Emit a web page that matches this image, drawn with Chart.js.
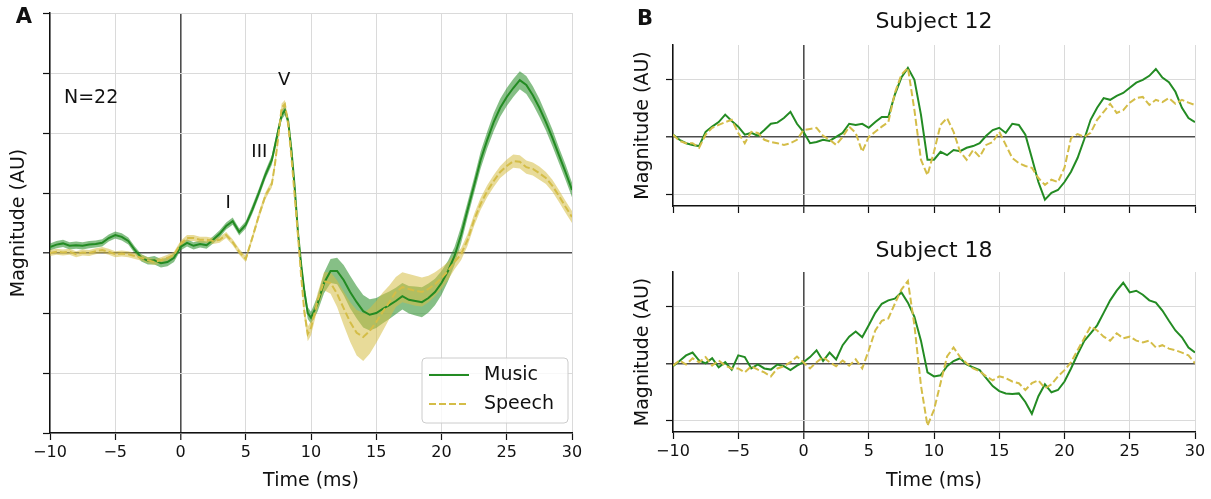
<!DOCTYPE html>
<html>
<head>
<meta charset="utf-8">
<script src="https://cdn.jsdelivr.net/npm/chart.js@4.4.0/dist/chart.umd.min.js"></script>
<style>
  body { margin: 0; background: #fff; }
  #wrap { position: relative; width: 1211px; height: 499px; }
  #wrap canvas { position: absolute; }
</style>
</head>
<body>
<div id="wrap">
  <canvas id="avgChart" width="600" height="499" style="left:0;top:0"></canvas>
  <canvas id="subj12Chart" width="611" height="230" style="left:600px;top:0"></canvas>
  <canvas id="subj18Chart" width="611" height="269" style="left:600px;top:230px"></canvas>
</div>
<script>
// time axis ticks (ms)
const timeTicks = [-10, -5, 0, 5, 10, 15, 20, 25, 30];
const timeTickLabels = ['\u221210', '\u22125', '0', '5', '10', '15', '20', '25', '30'];

// grand average, sampled finer around wave V
const timeA = [-10, -9.5, -9, -8.5, -8, -7.5, -7, -6.5, -6, -5.5, -5, -4.5, -4, -3.5, -3, -2.5, -2, -1.5, -1, -0.5,
  0, 0.5, 1, 1.5, 2, 2.5, 3, 3.5, 4, 4.5, 5, 5.5, 6, 6.5, 7,
  7.25, 7.5, 7.75, 8, 8.25, 8.5, 8.75, 9, 9.25, 9.5, 9.75, 10,
  10.5, 11, 11.5, 12, 12.5, 13, 13.5, 14, 14.5, 15, 15.5, 16, 16.5, 17, 17.5, 18, 18.5, 19, 19.5, 20,
  20.5, 21, 21.5, 22, 22.5, 23, 23.5, 24, 24.5, 25, 25.5, 26, 26.5, 27, 27.5, 28, 28.5, 29, 29.5, 30];

const musicMean = [0.10, 0.14, 0.16, 0.12, 0.13, 0.12, 0.14, 0.15, 0.17, 0.25, 0.30, 0.27, 0.20, 0.05, -0.08, -0.13, -0.12, -0.17, -0.15, -0.08,
  0.10, 0.17, 0.12, 0.15, 0.13, 0.22, 0.32, 0.45, 0.53, 0.35, 0.47, 0.72, 1.0, 1.3, 1.55,
  1.8, 2.05, 2.3, 2.38, 2.2, 1.72, 1.1, 0.35, -0.2, -0.65, -1.0, -1.08,
  -0.85, -0.5, -0.3, -0.3, -0.45, -0.65, -0.82, -0.97, -1.03, -1.0, -0.93, -0.87, -0.8, -0.72, -0.78, -0.8, -0.82, -0.75, -0.65, -0.5,
  -0.3, -0.05, 0.3, 0.72, 1.13, 1.55, 1.88, 2.18, 2.42, 2.6, 2.75, 2.88, 2.8, 2.63, 2.42, 2.18, 1.92, 1.63, 1.35, 1.05];

const musicSem = [0.06, 0.06, 0.06, 0.06, 0.06, 0.06, 0.06, 0.06, 0.06, 0.06, 0.06, 0.06, 0.06, 0.06, 0.06, 0.06, 0.07, 0.07, 0.07, 0.07,
  0.06, 0.06, 0.06, 0.06, 0.06, 0.06, 0.06, 0.06, 0.06, 0.06, 0.06, 0.07, 0.07, 0.07, 0.08,
  0.08, 0.08, 0.08, 0.08, 0.08, 0.08, 0.08, 0.08, 0.09, 0.1, 0.1, 0.1,
  0.13, 0.17, 0.2, 0.22, 0.25, 0.27, 0.27, 0.27, 0.26, 0.25, 0.24, 0.23, 0.22, 0.22, 0.23, 0.24, 0.25, 0.24, 0.22, 0.2,
  0.17, 0.15, 0.14, 0.13, 0.13, 0.14, 0.14, 0.15, 0.15, 0.15, 0.15, 0.15, 0.15, 0.15, 0.15, 0.14, 0.14, 0.13, 0.13, 0.12];

const speechMean = [0.00, 0.02, 0.01, 0.02, -0.02, 0.01, 0.00, 0.03, 0.05, 0.02, -0.02, -0.01, -0.02, -0.05, -0.08, -0.12, -0.15, -0.12, -0.08, -0.03,
  0.15, 0.25, 0.25, 0.22, 0.22, 0.20, 0.22, 0.30, 0.18, 0.02, -0.1, 0.25, 0.62, 0.95, 1.15,
  1.5, 1.95, 2.42, 2.48, 2.15, 1.6, 0.95, 0.3, -0.4, -1.0, -1.35, -1.25,
  -0.8, -0.47, -0.5, -0.68, -0.92, -1.15, -1.33, -1.4, -1.3, -1.15, -0.98, -0.82, -0.65, -0.57, -0.6, -0.63, -0.65, -0.6, -0.52, -0.42,
  -0.3, -0.15, -0.02, 0.22, 0.55, 0.82, 1.03, 1.2, 1.35, 1.45, 1.53, 1.52, 1.43, 1.4, 1.33, 1.25, 1.12, 0.95, 0.77, 0.6];

const speechSem = [0.05, 0.05, 0.05, 0.05, 0.05, 0.05, 0.05, 0.05, 0.05, 0.05, 0.05, 0.05, 0.05, 0.05, 0.05, 0.05, 0.05, 0.05, 0.05, 0.05,
  0.05, 0.05, 0.05, 0.05, 0.05, 0.05, 0.05, 0.05, 0.05, 0.05, 0.05, 0.05, 0.06, 0.06, 0.06,
  0.07, 0.07, 0.07, 0.07, 0.07, 0.07, 0.07, 0.07, 0.08, 0.1, 0.12, 0.12,
  0.13, 0.15, 0.18, 0.22, 0.28, 0.33, 0.38, 0.4, 0.38, 0.35, 0.32, 0.28, 0.25, 0.25, 0.25, 0.25, 0.24, 0.22, 0.2, 0.18,
  0.15, 0.12, 0.1, 0.1, 0.1, 0.1, 0.1, 0.1, 0.1, 0.11, 0.11, 0.11, 0.11, 0.11, 0.11, 0.1, 0.1, 0.1, 0.1, 0.1];

// single subjects, 0.5 ms steps
const timeB = [-10, -9.5, -9, -8.5, -8, -7.5, -7, -6.5, -6, -5.5, -5, -4.5, -4, -3.5, -3, -2.5, -2, -1.5, -1, -0.5,
  0, 0.5, 1, 1.5, 2, 2.5, 3, 3.5, 4, 4.5, 5, 5.5, 6, 6.5, 7, 7.5, 8, 8.5, 9, 9.5,
  10, 10.5, 11, 11.5, 12, 12.5, 13, 13.5, 14, 14.5, 15, 15.5, 16, 16.5, 17, 17.5, 18, 18.5, 19, 19.5,
  20, 20.5, 21, 21.5, 22, 22.5, 23, 23.5, 24, 24.5, 25, 25.5, 26, 26.5, 27, 27.5, 28, 28.5, 29, 29.5, 30];

const s12Music = [0.04, -0.05, -0.11, -0.14, -0.16, 0.09, 0.18, 0.26, 0.39, 0.28, 0.18, 0.04, 0.07, 0.02, 0.12, 0.23, 0.25, 0.33, 0.44, 0.23,
  0.09, -0.11, -0.09, -0.05, -0.07, 0, 0.07, 0.23, 0.21, 0.23, 0.16, 0.26, 0.35, 0.35, 0.74, 1.04, 1.21, 1.0, 0.39, -0.4,
  -0.4, -0.26, -0.32, -0.23, -0.25, -0.19, -0.16, -0.11, 0.02, 0.12, 0.16, 0.07, 0.23, 0.21, 0.04, -0.37, -0.79, -1.1, -0.98, -0.93,
  -0.79, -0.61, -0.37, -0.05, 0.3, 0.51, 0.68, 0.65, 0.72, 0.77, 0.86, 0.95, 1.0, 1.07, 1.19, 1.04, 0.96, 0.79, 0.51, 0.33, 0.26];

const s12Speech = [0.04, -0.07, -0.11, -0.11, -0.19, 0.04, 0.16, 0.21, 0.26, 0.30, 0.07, -0.11, 0.09, 0.07, -0.05, -0.09, -0.11, -0.14, -0.11, -0.05,
  0.12, 0.14, 0.16, 0.02, -0.05, -0.14, 0, 0.18, 0.07, -0.26, 0, 0.09, 0.18, 0.26, 0.77, 1.09, 1.21, 0.47, -0.4, -0.67,
  -0.26, 0.21, 0.33, 0.09, -0.26, -0.4, -0.23, -0.35, -0.14, -0.09, 0.09, -0.14, -0.37, -0.46, -0.51, -0.54, -0.72, -0.84, -0.75, -0.79,
  -0.54, -0.02, 0.05, 0, 0.07, 0.3, 0.44, 0.58, 0.42, 0.47, 0.6, 0.68, 0.7, 0.56, 0.65, 0.61, 0.68, 0.58, 0.65, 0.6, 0.56];

const s18Music = [-0.05, 0.04, 0.14, 0.19, 0.05, 0, 0.09, -0.07, 0.02, -0.11, 0.14, 0.11, -0.09, -0.02, -0.09, -0.11, -0.02, -0.05, -0.12, -0.04,
  0.02, 0.11, 0.23, 0.04, 0.19, 0.07, 0.32, 0.47, 0.56, 0.46, 0.67, 0.89, 1.05, 1.11, 1.14, 1.25, 1.07, 0.82, 0.4, -0.16,
  -0.23, -0.21, -0.05, 0.04, 0.09, -0.02, -0.07, -0.12, -0.26, -0.4, -0.49, -0.53, -0.54, -0.53, -0.68, -0.89, -0.58, -0.37, -0.51, -0.47,
  -0.32, -0.09, 0.16, 0.39, 0.53, 0.67, 0.89, 1.11, 1.28, 1.42, 1.25, 1.28, 1.21, 1.11, 1.07, 0.93, 0.75, 0.58, 0.46, 0.28, 0.19];

const s18Speech = [-0.04, 0.05, -0.02, 0.09, 0.02, 0.11, -0.04, 0.05, -0.04, -0.09, -0.09, -0.16, -0.05, -0.11, -0.16, -0.23, -0.09, -0.05, 0.02, 0.12,
  0.02, -0.09, 0.02, 0.11, 0.02, -0.05, 0.05, -0.04, 0.07, -0.09, 0.23, 0.58, 0.75, 0.79, 1.05, 1.3, 1.45, 0.67, -0.39, -1.1,
  -0.82, -0.35, 0.12, 0.28, 0.11, 0, -0.09, -0.14, -0.23, -0.3, -0.23, -0.26, -0.32, -0.35, -0.47, -0.35, -0.3, -0.44, -0.37, -0.23,
  -0.12, 0.02, 0.23, 0.44, 0.65, 0.58, 0.47, 0.4, 0.53, 0.44, 0.47, 0.4, 0.37, 0.4, 0.28, 0.32, 0.26, 0.23, 0.19, 0.14, 0];

const avgTicks = [-3, -2, -1, 0, 1, 2, 3, 4];
const subjTicks = [-1, 0, 1];

// wave labels on the grand average: [text, time, magnitude]
const waveNotes = [['I', 3.66, 0.83], ['III', 6.04, 1.67], ['V', 7.95, 2.87]];

const MUSIC = '#238b23';
const SPEECH = '#d4bd48';
const MUSIC_BAND = 'rgba(35,139,35,0.55)';
const SPEECH_BAND = 'rgba(214,190,70,0.55)';
const INK = '#111';

Chart.defaults.font.family = '"DejaVu Sans", sans-serif';
Chart.defaults.color = INK;
Chart.defaults.animation = false;

function points(times, values) {
  return times.map((t, i) => ({ x: t, y: values[i] }));
}

function edge(times, values, sem, sign) {
  return times.map((t, i) => ({ x: t, y: values[i] + sign * sem[i] }));
}

const gridColor = (c) => (c.tick && c.tick.value === 0 ? '#4d4d4d' : '#dadada');
const gridWidth = (c) => (c.tick && c.tick.value === 0 ? 1.6 : 1);

function timeAxis(withLabels, height) {
  return {
    type: 'linear',
    min: -10,
    max: 30,
    afterBuildTicks: (s) => { s.ticks = timeTicks.map((v) => ({ value: v })); },
    ticks: {
      display: withLabels,
      autoSkip: false,
      maxRotation: 0,
      padding: 3,
      font: { size: 16 },
      callback: (v, i) => timeTickLabels[i],
    },
    grid: { color: gridColor, lineWidth: gridWidth, tickColor: INK, tickLength: 7, tickWidth: 1.2 },
    border: { color: INK, width: 1.5 },
    title: { display: withLabels, text: 'Time (ms)', font: { size: 19 }, padding: { top: 0, bottom: 6.6 } },
    afterFit: (s) => { s.height = height; },
  };
}

function magnitudeAxis(min, max, tickValues, width, titlePad) {
  return {
    type: 'linear',
    min,
    max,
    afterBuildTicks: (s) => { s.ticks = tickValues.map((v) => ({ value: v })); },
    ticks: { display: false },
    grid: { color: gridColor, lineWidth: gridWidth, tickColor: INK, tickLength: 7, tickWidth: 1.2 },
    border: { color: INK, width: 1.5 },
    title: { display: true, text: 'Magnitude (AU)', font: { size: 19 }, padding: { top: titlePad, bottom: 0 } },
    afterFit: (s) => { s.width = width; },
  };
}

function line(data, color, dashed, order) {
  return {
    data,
    borderColor: color,
    borderWidth: 2,
    borderDash: dashed ? [7, 3] : [],
    pointRadius: 0,
    fill: false,
    order,
  };
}

function bandEdge(data, color, order) {
  return {
    data,
    borderWidth: 0,
    pointRadius: 0,
    fill: color ? '+1' : false,
    backgroundColor: color || 'transparent',
    order,
  };
}

function panelLetter(letter, x, y) {
  return {
    id: 'panelLetter' + letter,
    afterDraw(chart) {
      const ctx = chart.ctx;
      ctx.save();
      ctx.font = 'bold 21px "DejaVu Sans", sans-serif';
      ctx.fillStyle = INK;
      ctx.textAlign = 'center';
      ctx.textBaseline = 'middle';
      ctx.fillText(letter, x, y);
      ctx.restore();
    },
  };
}

const avgNotes = {
  id: 'avgNotes',
  afterDatasetsDraw(chart) {
    const { ctx, scales: { x, y } } = chart;
    ctx.save();
    ctx.fillStyle = INK;
    ctx.textBaseline = 'middle';
    ctx.font = '19px "DejaVu Sans", sans-serif';
    ctx.textAlign = 'left';
    ctx.fillText('N=22', x.getPixelForValue(-8.93), y.getPixelForValue(2.58));
    ctx.font = '18px "DejaVu Sans", sans-serif';
    ctx.textAlign = 'center';
    waveNotes.forEach(([txt, t, v]) => ctx.fillText(txt, x.getPixelForValue(t), y.getPixelForValue(v)));
    ctx.restore();
  },
};

const avgLegend = {
  id: 'avgLegend',
  afterDraw(chart) {
    const { ctx, chartArea: a } = chart;
    const w = 146, h = 65, r = 4;
    const x0 = a.right - 4 - w;
    const y0 = a.bottom - 10 - h;
    ctx.save();
    ctx.beginPath();
    ctx.moveTo(x0 + r, y0);
    ctx.arcTo(x0 + w, y0, x0 + w, y0 + h, r);
    ctx.arcTo(x0 + w, y0 + h, x0, y0 + h, r);
    ctx.arcTo(x0, y0 + h, x0, y0, r);
    ctx.arcTo(x0, y0, x0 + w, y0, r);
    ctx.closePath();
    ctx.fillStyle = 'rgba(255,255,255,0.8)';
    ctx.fill();
    ctx.strokeStyle = '#cccccc';
    ctx.lineWidth = 1;
    ctx.stroke();

    const rows = [['Music', MUSIC, []], ['Speech', SPEECH, [7, 3]]];
    ctx.font = '19px "DejaVu Sans", sans-serif';
    ctx.textBaseline = 'middle';
    ctx.textAlign = 'left';
    rows.forEach(([label, color, dash], i) => {
      const ry = y0 + 17 + i * 29;
      ctx.beginPath();
      ctx.setLineDash(dash);
      ctx.strokeStyle = color;
      ctx.lineWidth = 2;
      ctx.moveTo(x0 + 7, ry);
      ctx.lineTo(x0 + 47, ry);
      ctx.stroke();
      ctx.setLineDash([]);
      ctx.fillStyle = INK;
      ctx.fillText(label, x0 + 62, ry);
    });
    ctx.restore();
  },
};

new Chart(document.getElementById('avgChart'), {
  type: 'line',
  data: {
    datasets: [
      line(points(timeA, speechMean), SPEECH, true, 0),
      line(points(timeA, musicMean), MUSIC, false, 1),
      bandEdge(edge(timeA, speechMean, speechSem, 1), SPEECH_BAND, 2),
      bandEdge(edge(timeA, speechMean, speechSem, -1), null, 2),
      bandEdge(edge(timeA, musicMean, musicSem, 1), MUSIC_BAND, 3),
      bandEdge(edge(timeA, musicMean, musicSem, -1), null, 3),
    ],
  },
  options: {
    responsive: false,
    devicePixelRatio: 1,
    layout: { padding: { top: 13, right: 28, bottom: 0, left: 0 } },
    plugins: { legend: { display: false }, tooltip: { enabled: false } },
    scales: {
      x: timeAxis(true, 66),
      y: magnitudeAxis(-3, 4, avgTicks, 50, 8),
    },
  },
  plugins: [avgNotes, avgLegend, panelLetter('A', 24, 18)],
});

function subjectChart(canvasId, title, music, speech, titlePad, xHeight, withLabels, extra) {
  return new Chart(document.getElementById(canvasId), {
    type: 'line',
    data: {
      datasets: [
        line(points(timeB, speech), SPEECH, true, 0),
        line(points(timeB, music), MUSIC, false, 1),
      ],
    },
    options: {
      responsive: false,
      devicePixelRatio: 1,
      layout: { padding: { top: 0, right: 16, bottom: 0, left: 0 } },
      plugins: {
        legend: { display: false },
        tooltip: { enabled: false },
        title: {
          display: true,
          text: title,
          fullSize: false,
          color: INK,
          font: { size: 22, weight: 'normal' },
          padding: titlePad,
        },
      },
      scales: {
        x: timeAxis(withLabels, xHeight),
        y: magnitudeAxis(-1.21, 1.61, subjTicks, 73, 31.6),
      },
    },
    plugins: extra,
  });
}

subjectChart('subj12Chart', 'Subject 12', s12Music, s12Speech, { top: 9, bottom: 9.6 }, 24, false, [panelLetter('B', 45, 20)]);
subjectChart('subj18Chart', 'Subject 18', s18Music, s18Speech, { top: 8, bottom: 7.6 }, 67, true, []);
</script>
</body>
</html>
